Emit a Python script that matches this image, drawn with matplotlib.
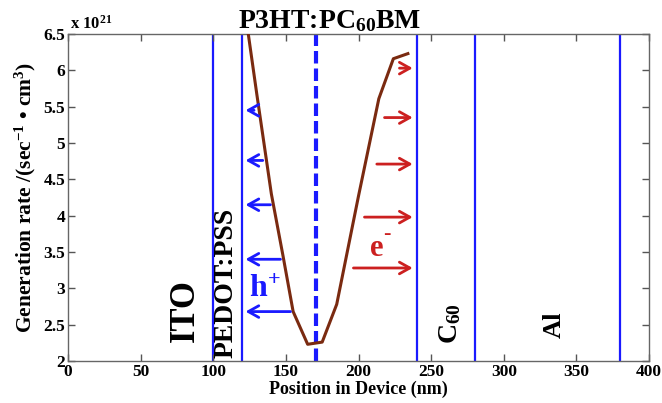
import matplotlib
matplotlib.use("Agg")
import matplotlib.pyplot as plt

plt.rcParams['font.family'] = ['Liberation Serif', 'DejaVu Serif']
plt.rcParams['font.weight'] = 'bold'
plt.rcParams['mathtext.fontset'] = 'custom'
plt.rcParams['mathtext.rm'] = 'Liberation Serif:bold'
plt.rcParams['mathtext.it'] = 'Liberation Serif:bold'
plt.rcParams['mathtext.bf'] = 'Liberation Serif:bold'

# data (generation rate in units of 1e21)
pos = [122, 130, 140, 148, 155, 165, 175, 185, 200, 214, 224, 234]
gen = [6.8, 5.67, 4.3, 3.45, 2.68, 2.23, 2.26, 2.78, 4.27, 5.61, 6.16, 6.23]
boundaries = [100, 120, 240, 280, 380]
center_x = 171
hole_y = [5.45, 4.76, 4.15, 3.40, 2.68]
hole_tail = [130, 136, 141.3, 148.2, 155.1]
elec_y = [6.03, 5.35, 4.71, 3.98, 3.28]
elec_tail = [226.3, 216, 210.7, 202.2, 194.6]
layer_labels = ['ITO', 'PEDOT:PSS', 'C$_{60}$', 'Al']
layer_x = [80.6, 108.5, 263, 334.6]
layer_y = [2.69, 3.07, 2.51, 2.5]
layer_size = [25, 20, 20, 19]

fig = plt.figure(figsize=(6.62, 4.03), dpi=100)
ax = fig.add_axes([68/662, 42/403, 581/662, 327/403])

blue = '#1a1aff'
red = '#cc2020'
brown = '#7a2a10'

for b in boundaries:
    ax.axvline(b, color=blue, lw=1.6, zorder=1)
ax.axvline(center_x, color=blue, lw=3, ls=(0, (3, 1.2)), zorder=2)
ax.plot(pos, gen, color=brown, lw=2.2, zorder=3)

astyle = '->,head_length=0.75,head_width=0.42'
for y, t in zip(hole_y, hole_tail):
    ax.annotate('', xy=(120.3, y), xytext=(t, y),
                arrowprops=dict(arrowstyle=astyle, color=blue, lw=2))
for y, t in zip(elec_y, elec_tail):
    ax.annotate('', xy=(239.2, y), xytext=(t, y),
                arrowprops=dict(arrowstyle=astyle, color=red, lw=2))

for lab, x, y, s in zip(layer_labels, layer_x, layer_y, layer_size):
    ax.text(x, y, lab, rotation=90, ha='center', va='center', fontsize=s, fontweight='bold')

ax.text(135.5, 2.98, 'h$^{+}$', color=blue, fontsize=23, fontweight='bold', ha='center', va='center')
ax.text(212.5, 3.55, 'e', color=red, fontsize=22, fontweight='bold', ha='center', va='center')
ax.text(219.3, 3.75, '-', color=red, fontsize=16, fontweight='bold', ha='center', va='center')

ax.set_xlim(0, 400)
ax.set_ylim(2, 6.5)
ax.set_xticks(range(0, 401, 50))
ax.set_yticks([2, 2.5, 3, 3.5, 4, 4.5, 5, 5.5, 6, 6.5])
ax.set_yticklabels(['2', '2.5', '3', '3.5', '4', '4.5', '5', '5.5', '6', '6.5'])
ax.tick_params(direction='in', top=True, right=True, labelsize=12.5, length=5, width=1,
               colors='#555555', labelcolor='black', pad=2)
for s in ax.spines.values():
    s.set_color('#666666')
    s.set_linewidth(1)

ax.set_xlabel('Position in Device (nm)', fontsize=13, fontweight='bold', labelpad=1)
ax.set_ylabel('Generation rate /(sec$^{-1}$ • cm$^{3}$)', fontsize=15.5, fontweight='bold', labelpad=4)
ax.text(0.003, 1.005, 'x 10$^{21}$', transform=ax.transAxes, fontsize=12, fontweight='bold', ha='left', va='bottom')
ax.text(180.4, 6.58, 'P3HT:PC$_{60}$BM', fontsize=20, fontweight='bold', ha='center', va='baseline')

fig.savefig('out.png', dpi=100)
